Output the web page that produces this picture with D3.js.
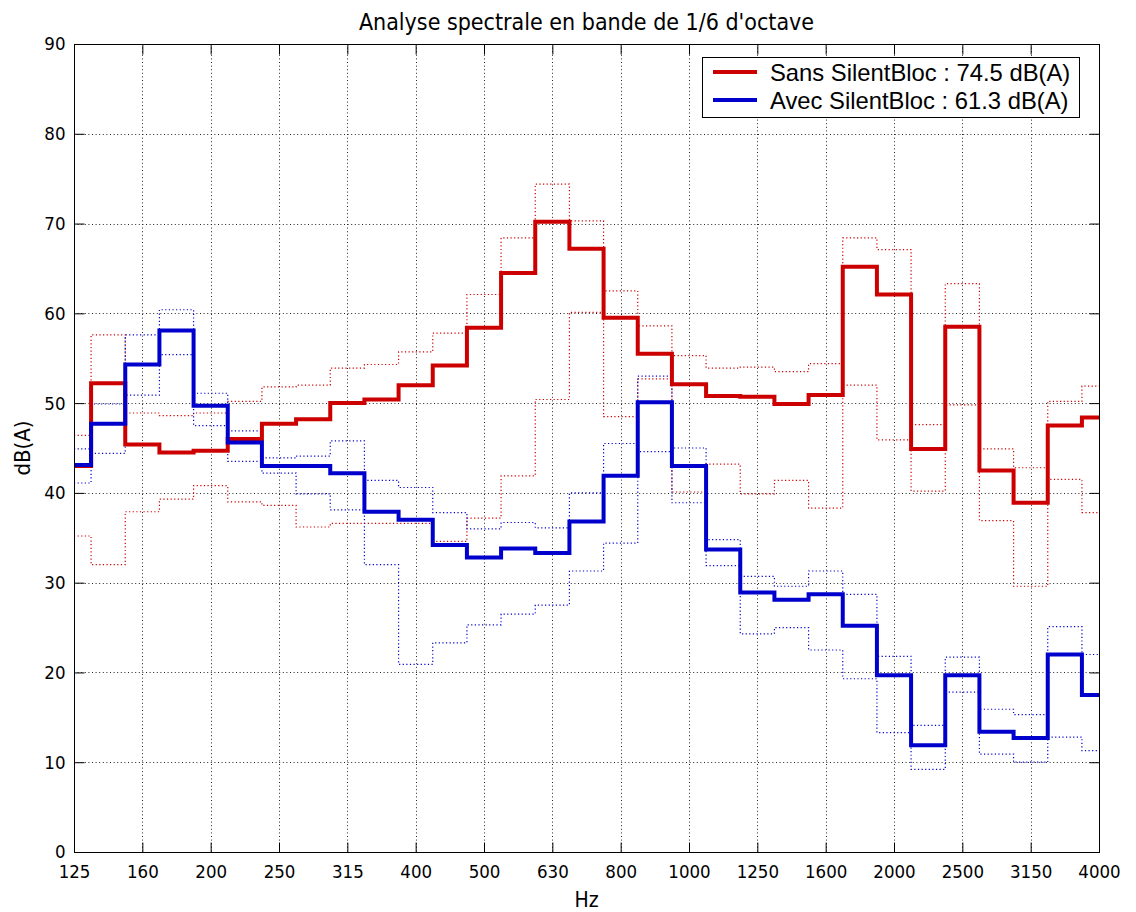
<!DOCTYPE html>
<html>
<head>
<meta charset="utf-8">
<script src="https://cdn.jsdelivr.net/npm/d3@7/dist/d3.min.js"></script>
<style>
  html, body { margin: 0; padding: 0; background: #ffffff; }
  svg { display: block; }
</style>
</head>
<body>
<svg id="chart" width="1136" height="912"></svg>
<script>
// ---------- data ----------
const bands = ["125","140","160","180","200","224","250","280","315","355","400","450","500","560","630","710","800","900","1000","1120","1250","1400","1600","1800","2000","2240","2500","2800","3150","3550","4000"];
const tickLabels = ["125","160","200","250","315","400","500","630","800","1000","1250","1600","2000","2500","3150","4000"];
const yTicks = [0,10,20,30,40,50,60,70,80,90];

const sansMean = [43.0,52.2,45.4,44.5,44.7,46.0,47.7,48.2,50.0,50.4,52.0,54.2,58.4,64.5,70.2,67.2,59.5,55.5,52.1,50.8,50.7,49.9,50.9,65.2,62.1,44.9,58.5,42.5,38.9,47.5,48.4];
const sansMax  = [46.4,57.6,48.9,48.6,48.9,50.2,51.8,52.0,53.9,54.3,55.7,57.8,62.1,68.4,74.4,70.3,62.5,58.6,55.3,53.9,54.0,53.5,54.4,68.4,67.1,47.6,63.3,44.9,42.8,50.2,51.9];
const sansMin  = [35.2,32.0,37.9,39.3,40.8,39.0,38.6,36.2,36.6,36.6,36.6,34.6,37.2,41.9,50.4,60.1,48.5,52.7,40.1,43.2,39.9,41.4,38.3,52.0,45.9,40.2,49.8,36.9,29.6,41.5,37.8];

const avecMean = [43.1,47.7,54.3,58.1,49.7,45.6,43.0,43.0,42.2,37.9,37.0,34.2,32.8,33.8,33.3,36.8,41.9,50.1,43.0,33.7,28.9,28.1,28.7,25.2,19.7,11.9,19.7,13.4,12.7,22.0,17.5];
const avecMax  = [44.9,49.9,57.6,60.4,51.1,46.9,43.9,44.1,45.8,41.4,40.6,37.8,36.0,36.7,36.1,40.0,45.5,53.0,45.0,34.8,30.7,29.6,31.3,28.7,21.8,14.1,21.7,15.9,15.3,25.1,22.0];
const avecMin  = [41.1,44.4,50.9,55.4,47.5,43.5,42.2,39.9,38.1,32.0,20.9,23.3,25.3,26.5,27.5,31.3,34.4,44.6,38.9,31.9,24.3,25.0,22.5,19.3,13.3,9.2,17.8,10.9,10.0,12.8,11.3];

const titleText = "Analyse spectrale en bande de 1/6 d'octave";
const xLabel = "Hz";
const yLabel = "dB(A)";
const legendLabels = ["Sans SilentBloc : 74.5 dB(A)", "Avec SilentBloc : 61.3 dB(A)"];

// ---------- layout ----------
const W = 1136, H = 912;
const M = {left: 74, right: 1099, top: 44, bottom: 852};
const RED = "#cc0000", BLUE = "#0000cc";
const tickFont = "'DejaVu Sans Condensed', 'DejaVu Sans', sans-serif";

const svg = d3.select("#chart");
svg.append("rect").attr("width", W).attr("height", H).attr("fill", "#fff");

// band index scale (1/6 octave bands are equally spaced on a log axis)
const x = d3.scaleLinear().domain([0, bands.length - 1]).range([M.left, M.right]);
const y = d3.scaleLinear().domain([0, 90]).range([M.bottom, M.top]);

const tickIdx = tickLabels.map(l => bands.indexOf(l));

// grid
const grid = svg.append("g").attr("stroke", "#000").attr("stroke-width", 1)
  .attr("stroke-dasharray", "1,2.6").attr("fill", "none").attr("opacity", 0.85);
tickIdx.slice(1, -1).forEach(i => {
  grid.append("line").attr("x1", Math.round(x(i)) + 0.5).attr("x2", Math.round(x(i)) + 0.5)
    .attr("y1", M.top).attr("y2", M.bottom);
});
yTicks.slice(1, -1).forEach(v => {
  grid.append("line").attr("y1", Math.round(y(v)) + 0.5).attr("y2", Math.round(y(v)) + 0.5)
    .attr("x1", M.left).attr("x2", M.right);
});

// stairs
function stairPoints(vals) {
  const n = vals.length;
  const pts = vals.map((v, i) => [i === 0 ? 0 : i - 0.5, v]);
  pts.push([n - 1, vals[n - 1]]);
  return pts;
}
const stair = d3.line().x(d => x(d[0])).y(d => y(d[1])).curve(d3.curveStepAfter);

const plot = svg.append("g");
function drawDotted(vals, color) {
  plot.append("path").attr("d", stair(stairPoints(vals))).attr("fill", "none")
    .attr("stroke", color).attr("stroke-width", 1.2).attr("stroke-dasharray", "1.2,2.4");
}
drawDotted(sansMax, RED); drawDotted(sansMin, RED);
drawDotted(avecMax, BLUE); drawDotted(avecMin, BLUE);

function drawSolid(vals, color) {
  plot.append("path").attr("d", stair(stairPoints(vals))).attr("fill", "none")
    .attr("stroke", color).attr("stroke-width", 4).attr("stroke-linejoin", "miter")
    .attr("stroke-linecap", "butt");
}
drawSolid(sansMean, RED);
drawSolid(avecMean, BLUE);

// frame
svg.append("rect").attr("x", M.left + 0.5).attr("y", M.top + 0.5)
  .attr("width", M.right - M.left).attr("height", M.bottom - M.top)
  .attr("fill", "none").attr("stroke", "#000").attr("stroke-width", 1);

// axes (ticks inward on all sides)
const TL = 10;
const xAxisB = d3.axisBottom(x).tickValues(tickIdx).tickFormat((d, i) => tickLabels[i])
  .tickSizeInner(-TL).tickSizeOuter(0).tickPadding(12);
const gxb = svg.append("g").attr("transform", `translate(0,${M.bottom + 0.5})`).call(xAxisB);
const xAxisT = d3.axisTop(x).tickValues(tickIdx).tickFormat("").tickSizeInner(-TL).tickSizeOuter(0);
const gxt = svg.append("g").attr("transform", `translate(0,${M.top + 0.5})`).call(xAxisT);
const yAxisL = d3.axisLeft(y).tickValues(yTicks).tickFormat(d3.format("d"))
  .tickSizeInner(-TL).tickSizeOuter(0).tickPadding(9);
const gyl = svg.append("g").attr("transform", `translate(${M.left + 0.5},0)`).call(yAxisL);
const yAxisR = d3.axisRight(y).tickValues(yTicks).tickFormat("").tickSizeInner(-TL).tickSizeOuter(0);
const gyr = svg.append("g").attr("transform", `translate(${M.right + 0.5},0)`).call(yAxisR);

[gxb, gxt, gyl, gyr].forEach(g => {
  g.select(".domain").remove();
  g.selectAll(".tick line").attr("stroke", "#000");
  g.selectAll(".tick text").attr("fill", "#000").style("font-family", tickFont).style("font-size", "18.5px");
});

// titles
svg.append("text").attr("x", (M.left + M.right) / 2).attr("y", 30)
  .attr("text-anchor", "middle").style("font-family", tickFont).style("font-size", "23px")
  .attr("fill", "#000").text(titleText);
svg.append("text").attr("x", (M.left + M.right) / 2).attr("y", 907)
  .attr("text-anchor", "middle").style("font-family", tickFont).style("font-size", "21px")
  .attr("fill", "#000").text(xLabel);
svg.append("text").attr("transform", `translate(30,${(M.top + M.bottom) / 2}) rotate(-90)`)
  .attr("text-anchor", "middle").style("font-family", tickFont).style("font-size", "22px")
  .attr("fill", "#000").text(yLabel);

// legend
const lg = svg.append("g");
lg.append("rect").attr("x", 702.5).attr("y", 57.5).attr("width", 377).attr("height", 60)
  .attr("fill", "#fff").attr("stroke", "#000").attr("stroke-width", 1);
[[RED, 0], [BLUE, 1]].forEach(([c, i]) => {
  const yy = 72 + i * 28;
  lg.append("line").attr("x1", 713).attr("x2", 757).attr("y1", yy).attr("y2", yy)
    .attr("stroke", c).attr("stroke-width", 4);
  lg.append("text").attr("x", 770).attr("y", yy).attr("dy", "0.36em")
    .style("font-family", "'Liberation Sans', Arial, sans-serif").style("font-size", "23.8px")
    .attr("fill", "#000").text(legendLabels[i]);
});
</script>
</body>
</html>
